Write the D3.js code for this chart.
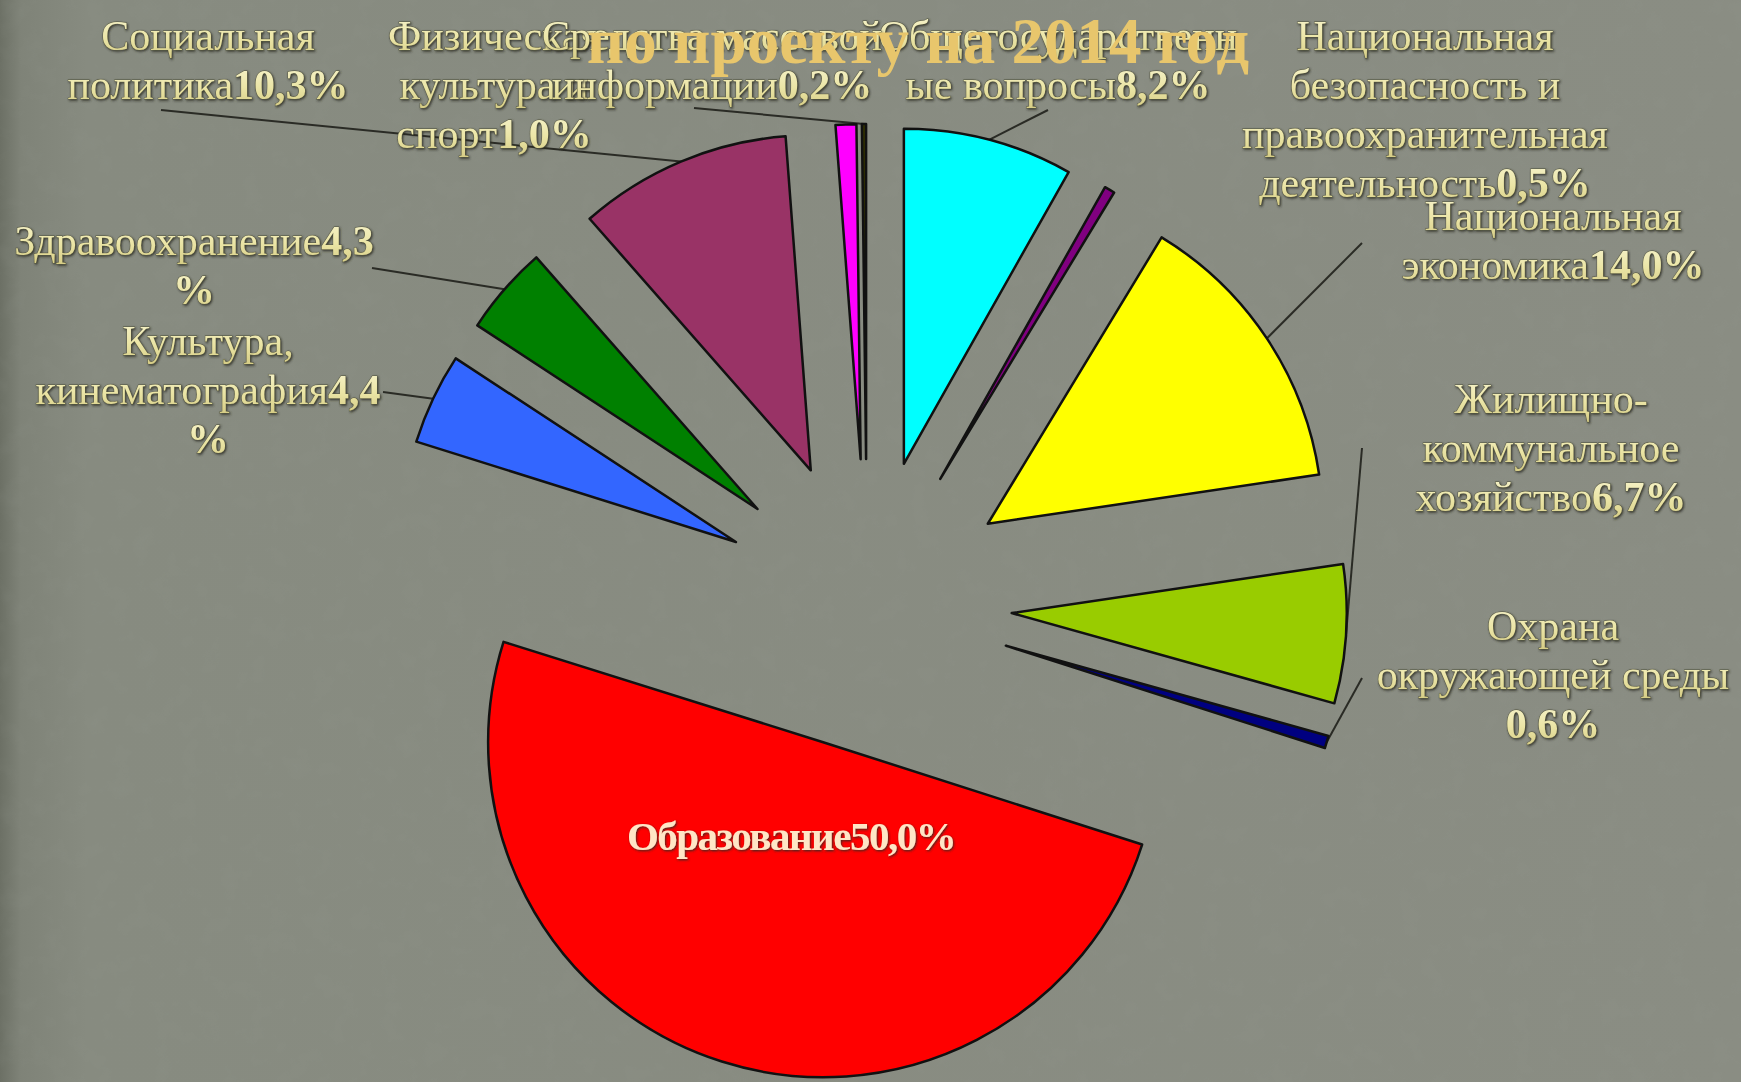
<!DOCTYPE html>
<html><head><meta charset="utf-8">
<script src="https://cdn.jsdelivr.net/npm/d3@7"></script>
<style>html,body{margin:0;padding:0;background:#878b80;overflow:hidden}</style>
</head><body>
<svg id="chart" width="1741" height="1082"></svg>
<script>
// ---------------- DATA ----------------
const categories = [
  "Общегосударственные вопросы",
  "Национальная безопасность и правоохранительная деятельность",
  "Национальная экономика",
  "Жилищно-коммунальное хозяйство",
  "Охрана окружающей среды",
  "Образование",
  "Культура, кинематография",
  "Здравоохранение",
  "Социальная политика",
  "Физическая культура и спорт",
  "Средства массовой информации"
];
const values = [8.2, 0.5, 14.0, 6.7, 0.6, 50.0, 4.4, 4.3, 10.3, 1.0, 0.2];
// label text as wrapped in the picture
const labelLines = [
  ["Общегосударственн", "ые вопросы"],
  ["Национальная", "безопасность и", "правоохранительная", "деятельность"],
  ["Национальная", "экономика"],
  ["Жилищно-", "коммунальное", "хозяйство"],
  ["Охрана", "окружающей среды"],
  ["Образование"],
  ["Культура,", "кинематография"],
  ["Здравоохранение"],
  ["Социальная", "политика"],
  ["Физическая", "культура и", "спорт"],
  ["Средства массовой", "информации"]
];
const valueMode = ["inline","inline","inline","inline","newline","inline","split","split","inline","inline","inline"];
const title = "по проекту на 2014 год";

// ---------------- STYLE / LAYOUT ----------------
const sliceColors = ["#00FFFF","#800080","#FFFF00","#99CC00","#000080","#FF0000","#3366FF","#008000","#993366","#FF00FF","#333300"];
const W = 1741, H = 1082;
const geo = { cx: 867, cy: 604, r: 335, explode: 145, lineH: 49 };
const labelLayout = [
  {x:1058, y:50,  lx:1048, ly:110},
  {x:1425, y:50},
  {x:1553, y:230, lx:1362, ly:243},
  {x:1551, y:413, lx:1362, ly:448},
  {x:1553, y:640, lx:1362, ly:678},
  {x:791,  y:850, inside:true},
  {x:208,  y:355, lx:383, ly:392},
  {x:194,  y:255, lx:372, ly:268},
  {x:208,  y:50,  lx:161, ly:110},
  {x:494,  y:50},
  {x:712,  y:50,  lx:694, ly:108}
];

const svg = d3.select("#chart");
const defs = svg.append("defs");
const bg = defs.append("linearGradient").attr("id","bgGrad").attr("x1","0").attr("x2","1").attr("y1","0").attr("y2","0");
bg.append("stop").attr("offset","0").attr("stop-color","#6c7065");
bg.append("stop").attr("offset","0.012").attr("stop-color","#7f8378");
bg.append("stop").attr("offset","0.05").attr("stop-color","#878b80");
bg.append("stop").attr("offset","1").attr("stop-color","#8a8d83");
const tg = defs.append("linearGradient").attr("id","txtGrad").attr("x1","0").attr("x2","0").attr("y1","0").attr("y2","1");
tg.append("stop").attr("offset","0").attr("stop-color","#f7f4cf");
tg.append("stop").attr("offset","0.55").attr("stop-color","#ebe5a6");
tg.append("stop").attr("offset","1").attr("stop-color","#d6cd86");
const sh = defs.append("filter").attr("id","emboss").attr("x","-5%").attr("y","-20%").attr("width","110%").attr("height","140%");
sh.append("feDropShadow").attr("dx",1).attr("dy",1.2).attr("stdDeviation",0.9).attr("flood-color","#2e2f24").attr("flood-opacity",0.9);
const noise = defs.append("filter").attr("id","noise").attr("x",0).attr("y",0).attr("width","100%").attr("height","100%");
noise.append("feTurbulence").attr("type","fractalNoise").attr("baseFrequency",0.045).attr("numOctaves",3).attr("seed",4);
noise.append("feColorMatrix").attr("type","matrix").attr("values","0 0 0 0 0.3  0 0 0 0 0.32  0 0 0 0 0.28  0 0 0 -1.6 0.9");

svg.append("rect").attr("width",W).attr("height",H).attr("fill","url(#bgGrad)");
svg.append("rect").attr("width",W).attr("height",H).attr("filter","url(#noise)").attr("opacity",0.18);

const color = d3.scaleOrdinal(categories, sliceColors);
const pie = d3.pie().sort(null).value(d => d.value).startAngle(0).endAngle(2*Math.PI);
const data = categories.map((c,i) => ({name:c, value: values[i], i}));
const arcs = pie(data);
const arc = d3.arc().innerRadius(0).outerRadius(geo.r);
const edge = d3.arc().innerRadius(geo.r).outerRadius(geo.r);
const offset = a => {
  const m = (a.startAngle + a.endAngle)/2;
  return [geo.explode*Math.sin(m), -geo.explode*Math.cos(m)];
};
const fmt = v => d3.format(".1f")(v).replace(".", ",") + "%";

const g = svg.append("g").attr("transform",`translate(${geo.cx},${geo.cy})`);

// leader lines
arcs.forEach(a => {
  const L = labelLayout[a.data.i];
  if (L.lx === undefined) return;
  const [ox,oy] = offset(a);
  const [ex,ey] = edge.centroid(a);
  g.append("line")
    .attr("x1", L.lx - geo.cx).attr("y1", L.ly - geo.cy)
    .attr("x2", ox+ex).attr("y2", oy+ey)
    .attr("stroke","#2a2b25").attr("stroke-width",2);
});

// slices
g.selectAll("path.slice").data(arcs).join("path")
  .attr("class","slice")
  .attr("transform", a => `translate(${offset(a)})`)
  .attr("d", arc)
  .attr("fill", a => color(a.data.name))
  .attr("stroke","#111")
  .attr("stroke-width",2.5)
  .attr("stroke-linejoin","round");

// labels
arcs.forEach(a => {
  const i = a.data.i, L = labelLayout[i];
  const v = fmt(values[i]);
  const lines = labelLines[i].map(t => [{t, b:false}]);
  if (valueMode[i] === "inline") lines[lines.length-1].push({t:v, b:true});
  else if (valueMode[i] === "newline") lines.push([{t:v, b:true}]);
  else { lines[lines.length-1].push({t:v.replace("%",""), b:true}); lines.push([{t:"%", b:true}]); }
  lines.forEach((segs, k) => {
    const t = svg.append("text")
      .attr("x", L.x).attr("y", L.y + k*geo.lineH)
      .attr("text-anchor","middle")
      .attr("font-family","'Liberation Serif','Times New Roman',serif");
    if (L.inside) {
      t.attr("font-size",41).attr("font-weight","bold").attr("letter-spacing",-1.5)
       .attr("fill","#ffe6c6").attr("filter","url(#emboss)");
    } else {
      t.attr("font-size",42).attr("fill","url(#txtGrad)")
       .attr("stroke","#55563f").attr("stroke-width",0.9).attr("paint-order","stroke")
       .attr("filter","url(#emboss)");
    }
    segs.forEach(s => t.append("tspan").attr("font-weight", s.b || L.inside ? "bold" : "normal").text(s.t));
  });
});

// title
svg.append("text")
  .attr("x", 918).attr("y", 63)
  .attr("text-anchor","middle")
  .attr("font-family","'Liberation Serif','Times New Roman',serif")
  .attr("font-size",65).attr("font-weight","bold")
  .attr("fill","#e8c66c")
  .text(title);
</script>
</body></html>
